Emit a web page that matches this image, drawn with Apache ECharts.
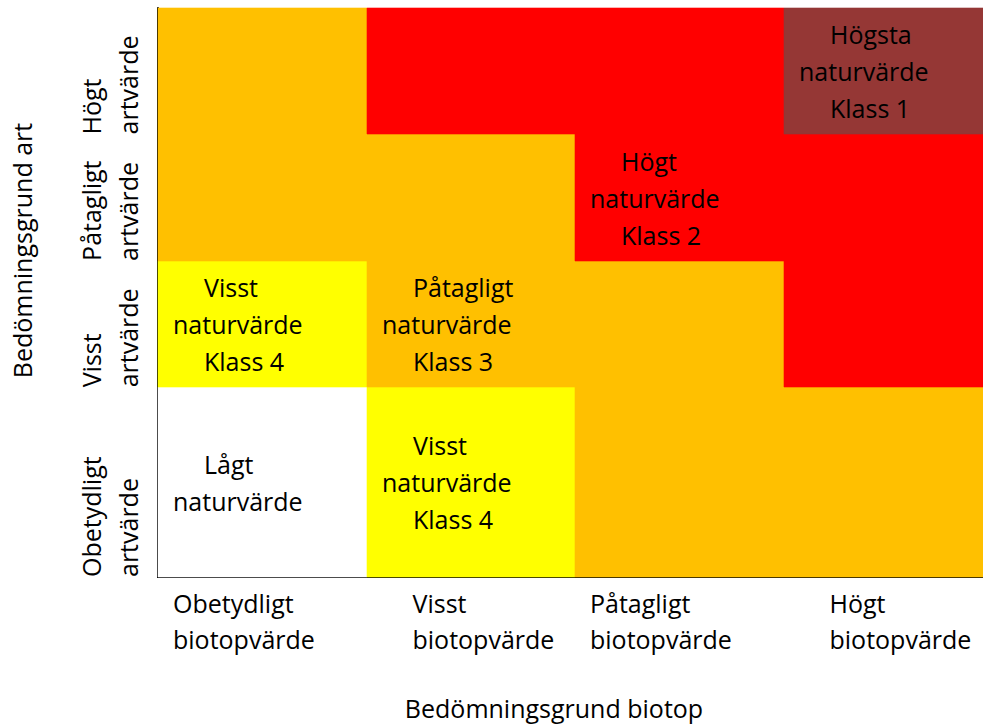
<!DOCTYPE html>
<html>
<head>
<meta charset="utf-8">
<script src="https://cdn.jsdelivr.net/npm/echarts@6/dist/echarts.min.js"></script>
<style>
  html, body { margin: 0; padding: 0; background: #fff; }
  #chart { width: 983px; height: 726px; }
</style>
</head>
<body>
<div id="chart"></div>
<script>
// Columns: assessment basis biotope (left -> right)
const biotopLabels = ['Obetydligt\nbiotopvärde', 'Visst\nbiotopvärde', 'Påtagligt\nbiotopvärde', 'Högt\nbiotopvärde'];
// Rows: assessment basis species (bottom -> top)
const artLabels = ['Obetydligt\nartvärde', 'Visst\nartvärde', 'Påtagligt\nartvärde', 'Högt\nartvärde'];
// Extent of each species row on the y scale (the bottom row is taller)
const rowBounds = [0, 1.5, 2.5, 3.5, 4.5];
// Nature value class per cell, rows bottom -> top, columns left -> right
// 0 = Lågt naturvärde, 1 = Klass 1, 2 = Klass 2, 3 = Klass 3, 4 = Klass 4
const classLevels = [
  [0, 4, 3, 3],
  [4, 3, 3, 2],
  [3, 3, 2, 2],
  [3, 2, 2, 1]
];
// Texts written in cells: [column, row, lines]
const cellTexts = [
  [3, 3, ['Högsta', 'naturvärde', 'Klass 1']],
  [2, 2, ['Högt', 'naturvärde', 'Klass 2']],
  [0, 1, ['Visst', 'naturvärde', 'Klass 4']],
  [1, 1, ['Påtagligt', 'naturvärde', 'Klass 3']],
  [0, 0, ['Lågt', 'naturvärde']],
  [1, 0, ['Visst', 'naturvärde', 'Klass 4']]
];
const xAxisName = 'Bedömningsgrund biotop';
const yAxisName = 'Bedömningsgrund art';

const classColors = ['#FFFFFF', '#953735', '#FF0000', '#FFC000', '#FFFF00'];
const FONT = '"Open Sans", "DejaVu Sans", sans-serif';
const FS = 25;

const cellData = [];
classLevels.forEach((row, r) => row.forEach((lvl, c) => cellData.push([c, r, lvl])));

const chart = echarts.init(document.getElementById('chart'), null, { renderer: 'svg' });

function renderCell(params, api) {
  const c = api.value(0), r = api.value(1), lvl = api.value(2);
  const p0 = api.coord([c, rowBounds[r]]);
  const p1 = api.coord([c + 1, rowBounds[r + 1]]);
  const x0 = Math.round(p0[0]), x1 = Math.round(p1[0]);
  const yb = Math.round(p0[1]), yt = Math.round(p1[1]);
  const children = [{
    type: 'rect',
    shape: { x: x0, y: yt, width: x1 - x0, height: yb - yt },
    style: { fill: classColors[lvl], stroke: classColors[lvl], lineWidth: 0.6 }
  }];
  const entry = cellTexts.find(t => t[0] === c && t[1] === r);
  if (entry) {
    const text = entry[2].map(s => s === 'naturvärde' ? '{b|' + s + '}' : '{a|' + s + '}').join('\n');
    children.push({
      type: 'text',
      z2: 10,
      style: {
        x: x0 + 15,
        y: (yb + yt) / 2,
        text: text,
        align: 'left',
        verticalAlign: 'middle',
        fill: '#000',
        fontFamily: FONT,
        fontSize: FS,
        lineHeight: 37,
        rich: {
          a: { fontFamily: FONT, fontSize: FS, lineHeight: 37, padding: [0, 0, 0, 31], fill: '#000' },
          b: { fontFamily: FONT, fontSize: FS, lineHeight: 37, fill: '#000' }
        }
      }
    });
  }
  return { type: 'group', children: children };
}

const option = {
  animation: false,
  backgroundColor: '#fff',
  grid: { left: 158, top: 8, right: -9, bottom: 149, containLabel: false, outerBoundsMode: 'none' },
  xAxis: {
    type: 'value', min: 0, max: biotopLabels.length,
    name: xAxisName, nameLocation: 'middle', nameGap: 118,
    nameTextStyle: { fontFamily: FONT, fontSize: FS, color: '#000', padding: [0, 42, 0, 0] },
    axisLine: { show: true, onZero: false, lineStyle: { color: '#000', width: 2 } },
    axisTick: { show: false },
    splitLine: { show: false },
    axisLabel: {
      customValues: biotopLabels.map((_, i) => i),
      align: 'left', verticalAlign: 'top', margin: 8,
      fontFamily: FONT, fontSize: FS, lineHeight: 36, color: '#000',
      formatter: v => {
        const style = (v % 2 === 1) ? 'w' : 'n';
        return biotopLabels[v].split('\n').map(s => '{' + style + '|' + s + '}').join('\n');
      },
      rich: {
        n: { fontFamily: FONT, fontSize: FS, lineHeight: 36, color: '#000', padding: [0, 0, 0, 15] },
        w: { fontFamily: FONT, fontSize: FS, lineHeight: 36, color: '#000', padding: [0, 0, 0, 46] }
      }
    }
  },
  yAxis: {
    type: 'value', min: rowBounds[0], max: rowBounds[rowBounds.length - 1],
    name: yAxisName, nameLocation: 'middle', nameGap: 124, nameRotate: 90,
    nameTextStyle: { fontFamily: FONT, fontSize: FS, color: '#000', padding: [0, 0, 0, 84] },
    axisLine: { show: true, onZero: false, lineStyle: { color: '#000', width: 2 } },
    axisTick: { show: false },
    splitLine: { show: false },
    axisLabel: {
      customValues: rowBounds.slice(0, artLabels.length),
      rotate: 90, align: 'left', verticalAlign: 'bottom', margin: 12,
      fontFamily: FONT, fontSize: FS, lineHeight: 37, color: '#000',
      formatter: v => artLabels[rowBounds.indexOf(v)]
    }
  },
  series: [{
    type: 'custom',
    renderItem: renderCell,
    data: cellData,
    encode: { x: 0, y: 1 },
    clip: false,
    z: 1
  }]
};
chart.setOption(option);
</script>
</body>
</html>
